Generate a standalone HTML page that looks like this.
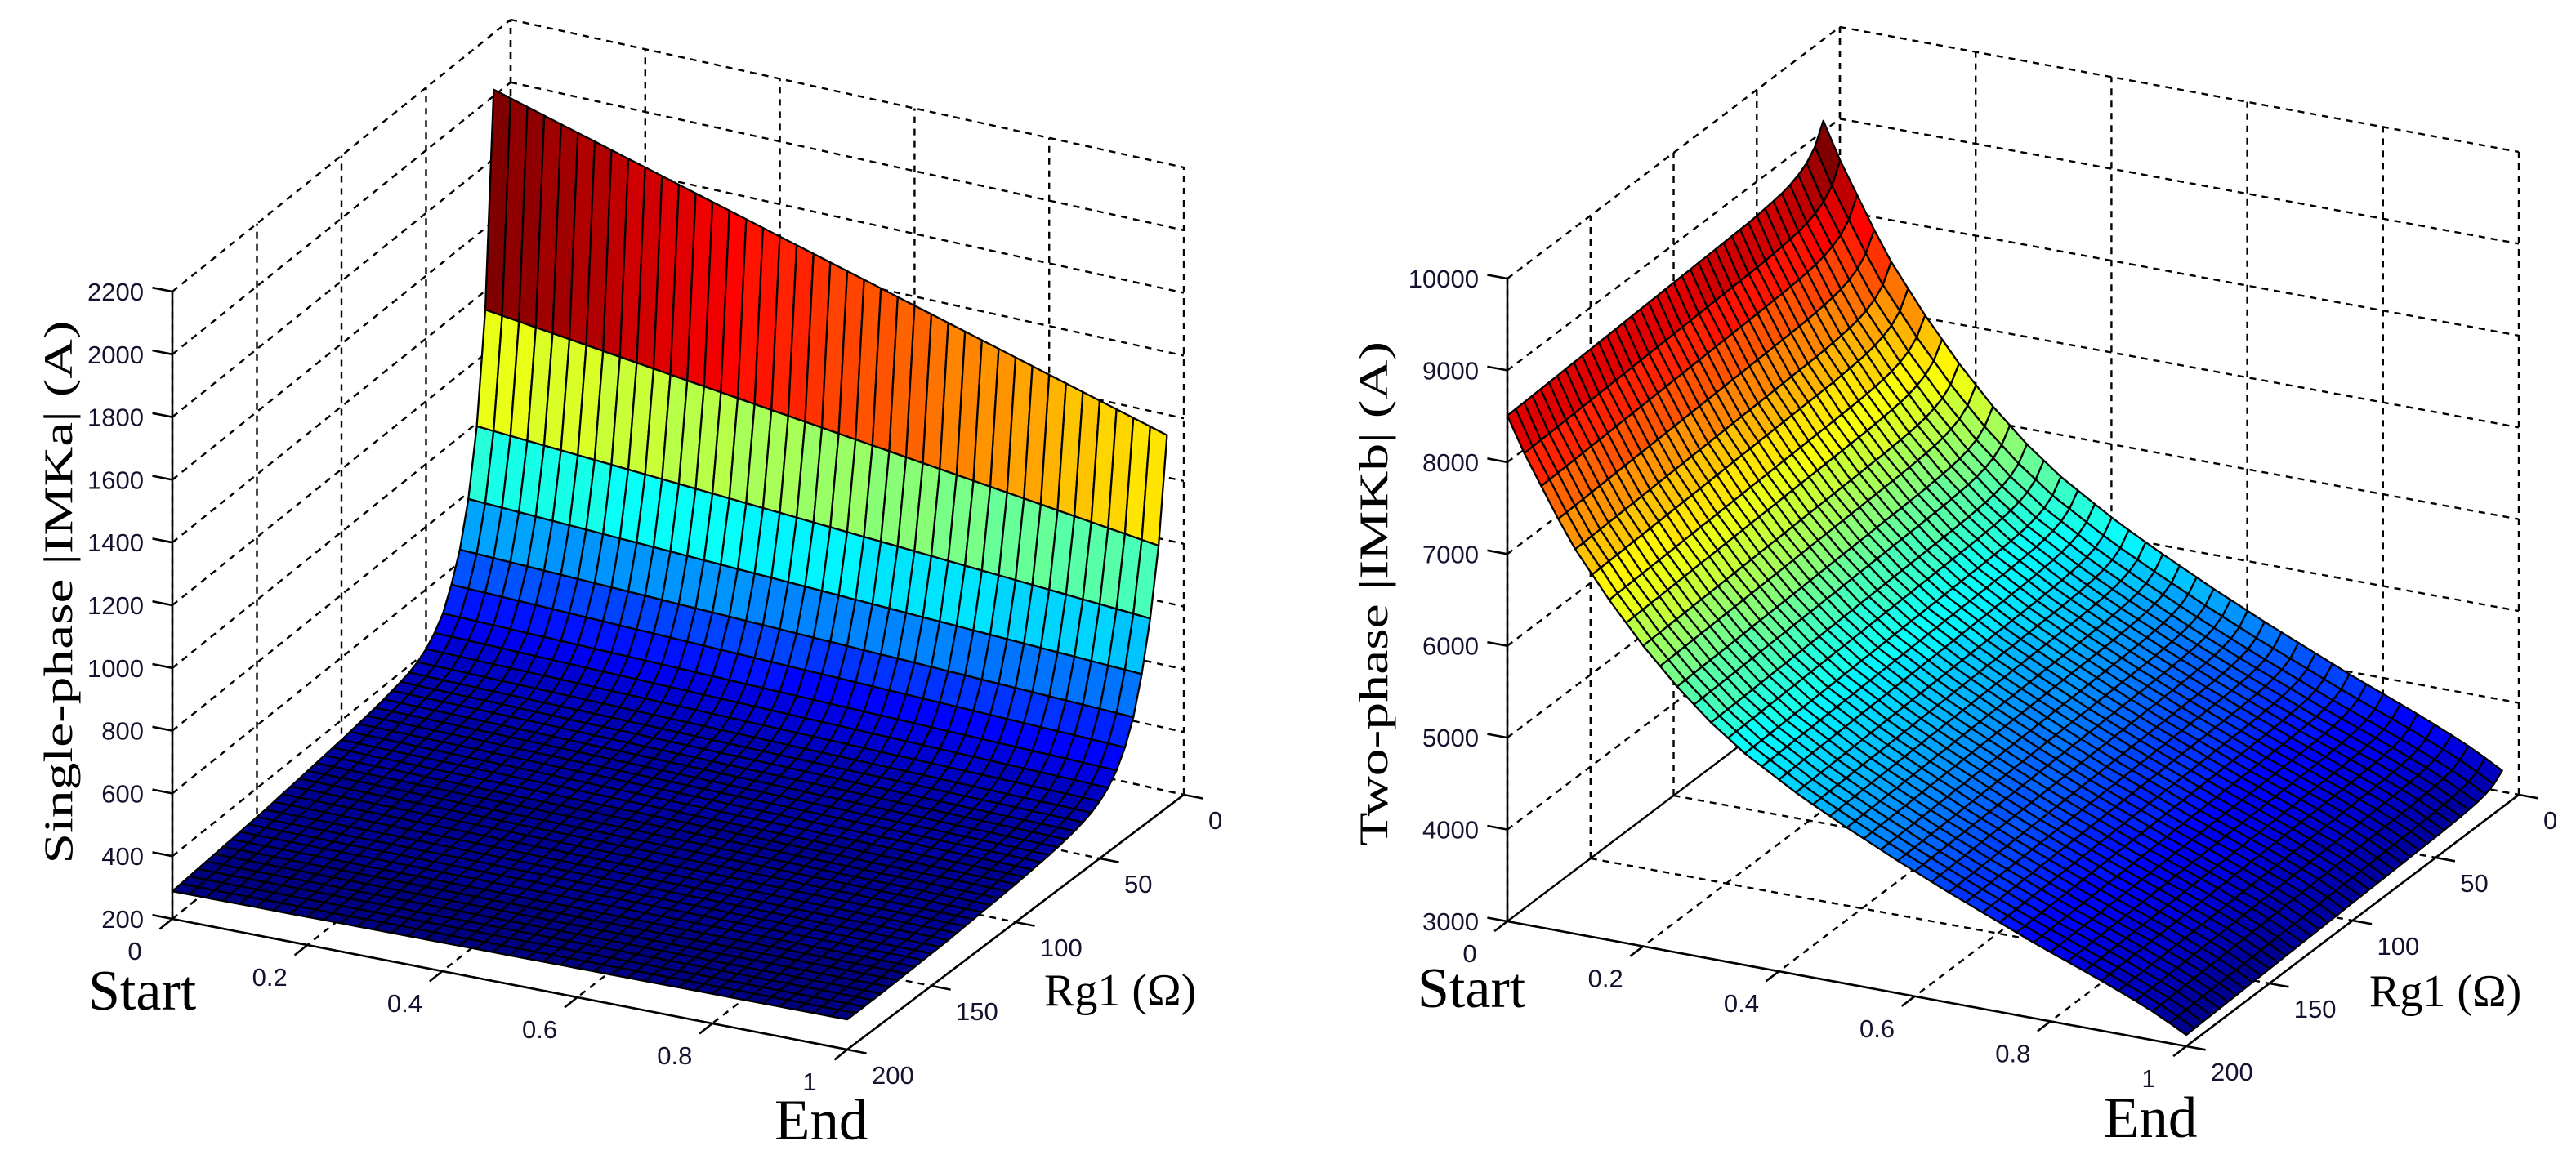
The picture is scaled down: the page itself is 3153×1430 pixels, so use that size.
<!DOCTYPE html>
<html><head><meta charset="utf-8"><style>
html,body{margin:0;padding:0;background:#fff;}
svg{display:block;}
.tick{font-family:"Liberation Sans",sans-serif;font-size:31px;fill:#14122e;}
.big{font-family:"Liberation Serif",serif;fill:#000;}
</style></head><body>
<svg id="fig" width="3153" height="1430" viewBox="0 0 3153 1430" xmlns="http://www.w3.org/2000/svg">
<rect width="3153" height="1430" fill="#fff"/>
<g id="plotA"></g>
<g id="plotB"></g>
<text class="big" transform="translate(88,725) rotate(-90)" text-anchor="middle" font-size="50" textLength="665" lengthAdjust="spacingAndGlyphs">Single-phase |IMKa|  (A)</text>
<text class="big" transform="translate(1698,727) rotate(-90)" text-anchor="middle" font-size="50" textLength="618" lengthAdjust="spacingAndGlyphs">Two-phase |IMKb|  (A)</text>
<text class="big" x="108" y="1236" font-size="70">Start</text>
<text class="big" x="948" y="1395" font-size="71">End</text>
<text class="big" x="1278" y="1231" font-size="56">Rg1 (Ω)</text>
<text class="big" x="1735" y="1233" font-size="70">Start</text>
<text class="big" x="2575" y="1392" font-size="71">End</text>
<text class="big" x="2900" y="1232" font-size="56">Rg1 (Ω)</text>
</svg>
<script>
// ---- data ----
const rgVals = [10,15,20,25,30,35,40,45,50,55,60,65,70,75,80,85,90,95,100,105,110,115,120,125,130,135,140,145,150,155,160,165,170,175,180,185,190,195,200];
const uVals = [0,0.025,0.05,0.075,0.1,0.125,0.15,0.175,0.2,0.225,0.25,0.275,0.3,0.325,0.35,0.375,0.4,0.425,0.45,0.475,0.5,0.525,0.55,0.575,0.6,0.625,0.65,0.675,0.7,0.725,0.75,0.775,0.8,0.825,0.85,0.875,0.9,0.925,0.95,0.975,1];
// single-phase |IMKa| at Start (u=0) and End (u=1) per Rg row
const aStart = [2020,1340,990,780,640,550,480,440,410,390,378,370,364,358,353,349,345,341,337,334,331,328,325,322,319,316,313,310,308,306,304,302,300,298,296,294,292,290,288];
const aEnd = [1387,1055,843,686,569,493,440,405,382,366,356,348,342,337,333,330,327,324,321,319,317,315,313,311,309,307,305,304,303,302,301,300,299,298,297,297,296,296,296];
const aShape = [1,0.975,0.95,0.925,0.9,0.875,0.85,0.825,0.8,0.775,0.75,0.725,0.7,0.675,0.65,0.625,0.6,0.575,0.55,0.525,0.5,0.475,0.45,0.425,0.4,0.375,0.35,0.325,0.3,0.275,0.25,0.225,0.2,0.175,0.15,0.125,0.1,0.075,0.05,0.025,0];
// two-phase |IMKb|
const bStart = [9116,8900,8790,8730,8690,8665,8650,8638,8628,8620,8616,8612,8608,8604,8600,8596,8592,8589,8585,8581,8577,8573,8569,8565,8561,8557,8553,8550,8546,8542,8538,8534,8530,8526,8522,8518,8515,8511,8507];
const bEnd = [3400,3320,3280,3260,3248,3240,3234,3229,3225,3222,3219,3215,3212,3209,3205,3202,3199,3195,3192,3189,3185,3182,3178,3175,3172,3168,3165,3161,3158,3155,3151,3148,3144,3141,3138,3134,3131,3127,3124];
const bShape = [1,0.93,0.87,0.81,0.755,0.71,0.665,0.625,0.585,0.55,0.515,0.485,0.455,0.43,0.405,0.385,0.365,0.345,0.327,0.31,0.293,0.277,0.261,0.245,0.23,0.215,0.2,0.186,0.172,0.158,0.144,0.13,0.117,0.104,0.091,0.078,0.064,0.05,0.035,0.018,0];
const zTicksA = [200,400,600,800,1000,1200,1400,1600,1800,2000,2200];
const zTicksB = [3000,4000,5000,6000,7000,8000,9000,10000];
const uTicks = [0,0.2,0.4,0.6,0.8,1];
const uTickLabels = ['0','0.2','0.4','0.6','0.8','1'];
const rgTicks = [0,50,100,150,200];
const rgTickLabels = ['0','50','100','150','200'];

const NS = 'http://www.w3.org/2000/svg';
function jet(t){
  t = Math.max(0, Math.min(1, t));
  t = Math.round(t*63)/63;
  const c = x => Math.round(255*Math.max(0, Math.min(1, x)));
  return 'rgb(' + c(1.5-Math.abs(4*t-3)) + ',' + c(1.5-Math.abs(4*t-2)) + ',' + c(1.5-Math.abs(4*t-1)) + ')';
}
function mk(tag, attrs, parent){
  const e = document.createElementNS(NS, tag);
  for (const k in attrs) e.setAttribute(k, attrs[k]);
  parent.appendChild(e);
  return e;
}
function drawPlot(g, cfg, startArr, endArr, shapeArr, zTicks, tag){
  const zmin = zTicks[0], zmax = zTicks[zTicks.length-1];
  function P(u, rg, z){
    const v = rg/200;
    const bx = (1-u)*(1-v)*cfg.BL[0] + u*(1-v)*cfg.BR[0] + (1-u)*v*cfg.FL[0] + u*v*cfg.FR[0];
    const by = (1-u)*(1-v)*cfg.BL[1] + u*(1-v)*cfg.BR[1] + (1-u)*v*cfg.FL[1] + u*v*cfg.FR[1];
    return [bx, by - cfg.H*(z-zmin)/(zmax-zmin)];
  }
  function line(a, b, dashed, name){
    const l = mk('line', {x1:a[0].toFixed(1), y1:a[1].toFixed(1), x2:b[0].toFixed(1), y2:b[1].toFixed(1), stroke:'#000', 'stroke-width': dashed ? 2.4 : 2.6, 'stroke-dasharray': dashed ? '8 7' : 'none'}, g);
    
    
  }
  for (const z of zTicks){
    line(P(0,200,z), P(0,0,z), true, 'grid-line-left-wall');
    line(P(0,0,z), P(1,0,z), true, 'grid-line-back-wall');
  }
  for (const r of rgTicks){
    line(P(0,r,zmin), P(0,r,zmax), true, 'grid-line-left-wall-vertical');
    line(P(0,r,zmin), P(1,r,zmin), true, 'grid-line-floor');
  }
  for (const u of uTicks){
    line(P(u,0,zmin), P(u,0,zmax), true, 'grid-line-back-wall-vertical');
    line(P(u,0,zmin), P(u,200,zmin), true, 'grid-line-floor');
  }
  const zAll = [];
  const Z = rgVals.map((r,i) => uVals.map((u,j) => {
    const z = endArr[i] + (startArr[i]-endArr[i])*shapeArr[j];
    zAll.push(z); return z;
  }));
  const cmin = Math.min(...zAll), cmax = Math.max(...zAll);
  const sg = mk('g', {}, g);
  
  
  for (let i = 0; i < rgVals.length-1; i++){
    for (let j = 0; j < uVals.length-1; j++){
      const p1 = P(uVals[j], rgVals[i], Z[i][j]);
      const p2 = P(uVals[j+1], rgVals[i], Z[i][j+1]);
      const p3 = P(uVals[j+1], rgVals[i+1], Z[i+1][j+1]);
      const p4 = P(uVals[j], rgVals[i+1], Z[i+1][j]);
      const pts = [p1,p2,p3,p4].map(p => p[0].toFixed(1) + ',' + p[1].toFixed(1)).join(' ');
      const poly = mk('polygon', {points: pts, fill: jet((Z[i][j]-cmin)/(cmax-cmin)), stroke:'#000', 'stroke-width':2.3, 'stroke-linejoin':'round'}, sg);
      
      
    }
  }
  line(P(0,200,zmin), P(0,200,zmax), false, 'z-axis-line');
  line(P(0,200,zmin), P(1,200,zmin), false, 'x-axis-line');
  line(P(1,200,zmin), P(1,0,zmin), false, 'rg-axis-line');
  const A = [cfg.FR[0]-cfg.FL[0], cfg.FR[1]-cfg.FL[1]];
  const aL = Math.hypot(A[0],A[1]);
  const Bv = [cfg.FL[0]-cfg.BL[0], cfg.FL[1]-cfg.BL[1]];
  const bL = Math.hypot(Bv[0],Bv[1]);
  zTicks.forEach((z) => {
    const p = P(0,200,z);
    line(p, [p[0]-25*A[0]/aL, p[1]-25*A[1]/aL], false, 'z-tick');
    const t = mk('text', {x:(p[0]-35).toFixed(1), y:(p[1]+11).toFixed(1), 'text-anchor':'end', class:'tick'}, g);
    t.textContent = String(z);
    
    
  });
  uTicks.forEach((u, k) => {
    const p = P(u,200,zmin);
    line(p, [p[0]+20*Bv[0]/bL, p[1]+20*Bv[1]/bL], false, 'x-tick');
    const t = mk('text', {x:(p[0]-46).toFixed(1), y:(p[1]+50).toFixed(1), 'text-anchor':'middle', class:'tick'}, g);
    t.textContent = uTickLabels[k];
    
    
  });
  rgTicks.forEach((r, k) => {
    const p = P(1,r,zmin);
    line(p, [p[0]+24*A[0]/aL, p[1]+24*A[1]/aL], false, 'rg-tick');
    const t = mk('text', {x:(p[0]+30).toFixed(1), y:(p[1]+42).toFixed(1), 'text-anchor':'start', class:'tick'}, g);
    t.textContent = rgTickLabels[k];
    
    
  });
}
drawPlot(document.getElementById('plotA'),
  {FL:[211,1125], FR:[1037,1285], BL:[625,792], BR:[1449,973], H:768},
  aStart, aEnd, aShape, zTicksA, 'single-phase');
drawPlot(document.getElementById('plotB'),
  {FL:[1845,1128], FR:[2676,1281], BL:[2252,820], BR:[3083,973], H:787},
  bStart, bEnd, bShape, zTicksB, 'two-phase');
</script>
</body></html>
